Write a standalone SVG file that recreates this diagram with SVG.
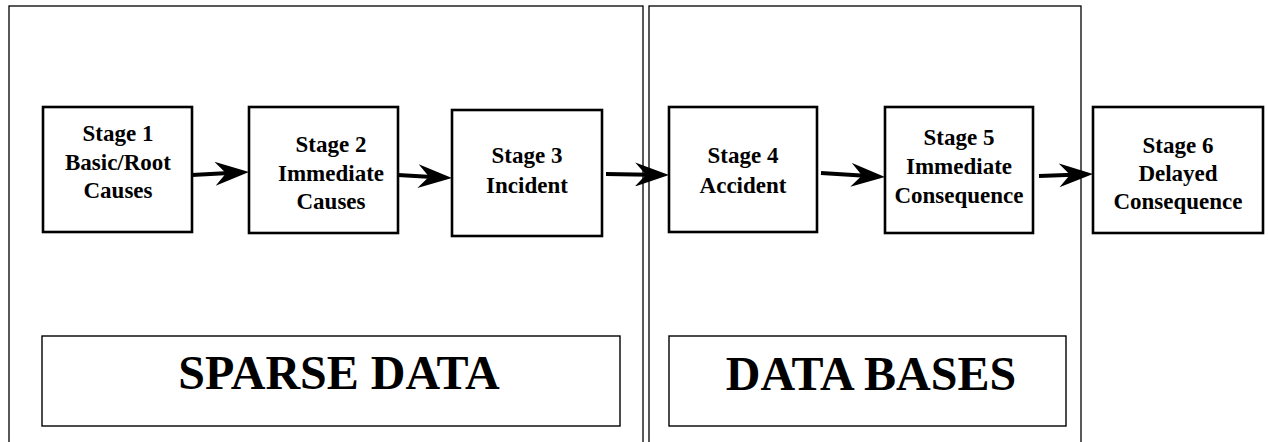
<svg xmlns="http://www.w3.org/2000/svg" width="1268" height="442" viewBox="0 0 1268 442">
<style>
.region{fill:none;stroke:#000;stroke-width:1.3}
.label{fill:#fff;stroke:#000;stroke-width:1.4}
.stage{fill:#fff;stroke:#000;stroke-width:2.6}
.st{font-family:"Liberation Serif","Times New Roman",serif;font-weight:bold;font-size:23px;text-anchor:middle;fill:#000}
.big{font-family:"Liberation Serif","Times New Roman",serif;font-weight:bold;font-size:48px;text-anchor:middle;fill:#000}
.conn{stroke:#000;stroke-width:4;fill:none;marker-end:url(#ah)}
</style>
<defs>
<marker id="ah" markerUnits="userSpaceOnUse" viewBox="0 0 34 24" markerWidth="34" markerHeight="24" refX="14" refY="12" orient="auto">
<path d="M34,12 L0,0 L11,12 L0,24 Z" fill="#000"/>
</marker>
</defs>
<rect width="1268" height="442" fill="#fff"/>
<g id="region-sparse">
<rect class="region" x="9" y="6" width="634" height="500"/>
<rect class="label" x="42" y="336" width="578" height="90"/>
<text class="big" x="339" y="389">SPARSE DATA</text>
</g>
<g id="region-databases">
<rect class="region" x="649" y="6" width="432" height="500"/>
<rect class="label" x="669" y="336" width="397" height="90"/>
<text class="big" x="871" y="390">DATA BASES</text>
</g>
<g id="connectors">
<line class="conn" x1="192" y1="175" x2="229" y2="173.05"/>
<line class="conn" x1="398" y1="175" x2="432" y2="176.9"/>
<line class="conn" x1="606" y1="174" x2="649" y2="174.7"/>
<line class="conn" x1="821" y1="173" x2="865" y2="175.75"/>
<line class="conn" x1="1039" y1="176" x2="1073" y2="174.74"/>
</g>
<g id="stage1">
<rect class="stage" x="43" y="107" width="149" height="125"/>
<text class="st" x="118" y="141">Stage 1</text>
<text class="st" x="118" y="170">Basic/Root</text>
<text class="st" x="118" y="198">Causes</text>
</g>
<g id="stage2">
<rect class="stage" x="249" y="107" width="149" height="126"/>
<text class="st" x="331" y="152">Stage 2</text>
<text class="st" x="331" y="181">Immediate</text>
<text class="st" x="331" y="209">Causes</text>
</g>
<g id="stage3">
<rect class="stage" x="452" y="110" width="150" height="126"/>
<text class="st" x="527" y="163">Stage 3</text>
<text class="st" x="527" y="193">Incident</text>
</g>
<g id="stage4">
<rect class="stage" x="669" y="107" width="148" height="125"/>
<text class="st" x="743" y="163">Stage 4</text>
<text class="st" x="743" y="193">Accident</text>
</g>
<g id="stage5">
<rect class="stage" x="885" y="107" width="148" height="126"/>
<text class="st" x="959" y="145">Stage 5</text>
<text class="st" x="959" y="174">Immediate</text>
<text class="st" x="959" y="203">Consequence</text>
</g>
<g id="stage6">
<rect class="stage" x="1093" y="107" width="170" height="126"/>
<text class="st" x="1178" y="153">Stage 6</text>
<text class="st" x="1178" y="181">Delayed</text>
<text class="st" x="1178" y="209">Consequence</text>
</g>
</svg>
